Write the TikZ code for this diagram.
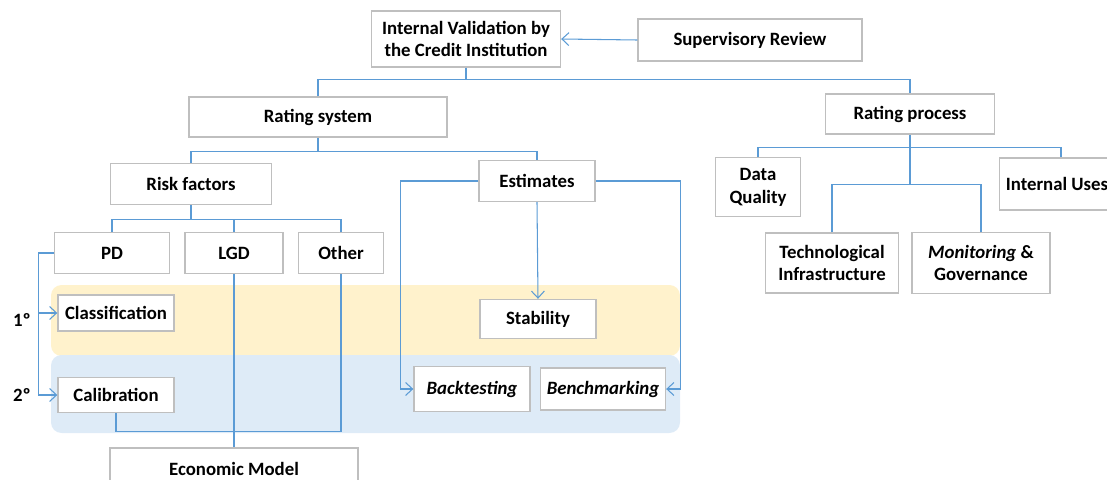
\documentclass[tikz,border=0pt]{standalone}
\usepackage{fontspec}
\setmainfont{Carlito}
\usepackage{xcolor}
\usetikzlibrary{arrows.meta}
\definecolor{linkblue}{HTML}{5B9BD5}
\definecolor{boxgray}{HTML}{BFBFBF}
\definecolor{bandyellow}{HTML}{FFF2CC}
\definecolor{bandblue}{HTML}{DEEBF7}
\tikzset{
    box/.style={draw=boxgray, line width=0.8pt, fill=white, align=center, inner sep=0pt,
        font=\fontsize{10.7}{13}\selectfont\bfseries},
    link/.style={draw=linkblue, line width=0.6pt},
    >={Straight Barb[length=1.4mm,width=2.6mm]}
}

\begin{document}
\begin{tikzpicture}[x=0.02cm,y=-0.02cm]
    \clip (0,0) rectangle (1107,480);
    \fill[bandyellow, rounded corners=6pt] (51,285) rectangle (680,356);
    \fill[bandblue, rounded corners=6pt] (51,355) rectangle (680,433);
    \node[box, minimum width=3.78cm, minimum height=1.12cm] (iv) at (466,39) {Internal Validation by\\the Credit Institution};
    \node[box, minimum width=4.48cm, minimum height=0.84cm] (sr) at (750,40) {Supervisory Review};
    \node[box, minimum width=5.16cm, minimum height=0.80cm] (rs) at (318,117) {Rating system};
    \node[box, minimum width=3.38cm, minimum height=0.80cm] (rp) at (910,114) {Rating process};
    \node[box, minimum width=3.22cm, minimum height=0.82cm] (rf) at (191,184) {Risk factors};
    \node[box, minimum width=2.32cm, minimum height=0.82cm] (est) at (537,181) {Estimates};
    \node[box, minimum width=2.30cm, minimum height=0.82cm] (pd) at (112,253) {PD};
    \node[box, minimum width=1.96cm, minimum height=0.82cm] (lgd) at (234,253) {LGD};
    \node[box, minimum width=1.70cm, minimum height=0.82cm] (oth) at (341,253) {Other};
    \node[box, minimum width=2.32cm, minimum height=0.72cm] (cls) at (116,313) {Classification};
    \node[box, minimum width=2.32cm, minimum height=0.70cm] (cal) at (116,395) {Calibration};
    \node[box, minimum width=2.32cm, minimum height=0.78cm] (stb) at (538,319) {Stability};
    \node[box, minimum width=2.32cm, minimum height=0.90cm] (bt) at (472,389) {\textit{Backtesting}};
    \node[box, minimum width=2.50cm, minimum height=0.84cm] (bm) at (603,389) {\textit{Benchmarking}};
    \node[box, minimum width=4.96cm, minimum height=0.84cm] (em) at (234,469) {Economic Model};
    \node[box, minimum width=1.70cm, minimum height=1.18cm] (dq) at (758,187) {Data\\Quality};
    \node[box, minimum width=2.30cm, minimum height=1.04cm] (iu) at (1057,184) {Internal Uses};
    \node[box, minimum width=2.66cm, minimum height=1.20cm] (ti) at (832,263) {Technological\\Infrastructure};
    \node[box, minimum width=2.76cm, minimum height=1.22cm] (mg) at (981,263) {\textit{Monitoring} \&\\Governance};
    \node[font=\fontsize{10.7}{13}\selectfont\bfseries] (first) at (22,320) {1º};
    \node[font=\fontsize{10.7}{13}\selectfont\bfseries] (second) at (22,395) {2º};
    \draw[link,->] (sr.west) -- (iv.east);
    \draw[link] (iv.south) -- ++(0,12) coordinate (j1);
    \draw[link] (rs.north) |- (j1) -| (rp.north);
    \draw[link] (rs.south) -- ++(0,14) coordinate (j2);
    \draw[link] (rf.north) |- (j2) -| (est.north);
    \draw[link] (rf.south) -- ++(0,14) coordinate (j3);
    \draw[link] (pd.north) |- (j3) -| (oth.north);
    \draw[link] (lgd.north) -- (lgd.north |- j3);
    \draw[link,->] (pd.west) -- ++(-15,0) |- (cls.west);
    \draw[link,->] (pd.west) -- ++(-15,0) |- (cal.west);
    \draw[link] (lgd.south) -- (em.north);
    \draw[link] (cal.south) -- ++(0,18) -| (oth.south);
    \draw[link,->] (est.south) -- (stb.north);
    \draw[link,->] (est.west) -- ++(-78,0) |- (bt.west);
    \draw[link,->] (est.east) -- ++(85,0) |- (bm.east);
    \draw[link] (rp.south) -- ++(0,13) coordinate (j4);
    \draw[link] (dq.north) |- (j4) -| ([xshift=0.08cm]iu.north);
    \draw[link] (j4) -- ++(0,37) coordinate (j5);
    \draw[link] (ti.north) |- (j5) -| (mg.north);
\end{tikzpicture}
\end{document}
